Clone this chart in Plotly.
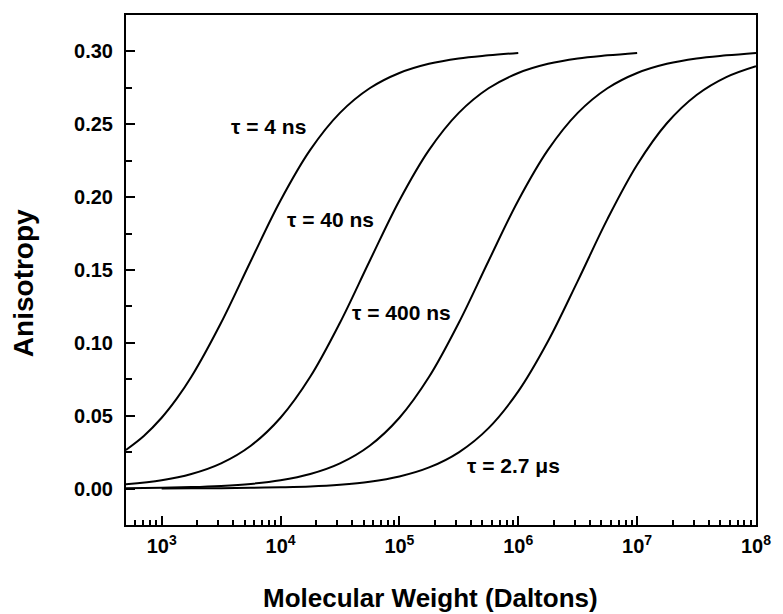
import plotly.graph_objects as go

# Molecular weight (Daltons) sample points
mw_a = [500, 708, 1000, 1334, 1778, 3162, 5623, 10000, 17783, 31623, 56234, 100000,
        177828, 316228, 562341, 1000000]
r_4ns = [0.0265, 0.0361, 0.0486, 0.0615, 0.0767, 0.1138, 0.1562, 0.1977, 0.2324,
         0.2578, 0.2747, 0.2852, 0.2915, 0.2952, 0.2973, 0.2990]

mw_b = [500, 1000, 1778, 3162, 5623, 10000, 17783, 31623, 56234, 100000,
        177828, 316228, 562341, 1000000, 1778279, 3162278, 5623413, 10000000]
r_40ns = [0.0029, 0.0057, 0.0100, 0.0173, 0.0294, 0.0486, 0.0767, 0.1138,
          0.1562, 0.1977, 0.2324, 0.2578, 0.2747, 0.2852, 0.2915, 0.2952,
          0.2973, 0.2990]

mw_c = [500, 1000, 1778, 3162, 5623, 10000, 17783, 31623, 56234, 100000,
        177828, 316228, 562341, 1000000, 1778279, 3162278, 5623413, 10000000,
        17782794, 31622777, 56234133, 100000000]
r_400ns = [0.0003, 0.0006, 0.0010, 0.0018, 0.0032, 0.0057, 0.0100, 0.0173,
           0.0294, 0.0486, 0.0767, 0.1138, 0.1562, 0.1977, 0.2324, 0.2578,
           0.2747, 0.2852, 0.2915, 0.2952, 0.2973, 0.2990]

mw_d = [1000, 1778, 3162, 5623, 10000, 17783, 31623, 56234, 100000,
        177828, 316228, 562341, 1000000, 1778279, 3162278, 5623413, 10000000,
        17782794, 31622777, 56234133, 100000000]
r_2700ns = [0.0001, 0.0002, 0.0003, 0.0005, 0.0009, 0.0015, 0.0027, 0.0047,
            0.0083, 0.0145, 0.0249, 0.0415, 0.0667, 0.1011, 0.1424, 0.1849,
            0.2222, 0.2507, 0.2701, 0.2824, 0.2899]

x_tick_vals = [1e3, 1e4, 1e5, 1e6, 1e7, 1e8]
x_tick_text = ["10<sup>3</sup>", "10<sup>4</sup>", "10<sup>5</sup>",
               "10<sup>6</sup>", "10<sup>7</sup>", "10<sup>8</sup>"]
y_tick_vals = [0.00, 0.05, 0.10, 0.15, 0.20, 0.25, 0.30]
y_tick_text = ["0.00", "0.05", "0.10", "0.15", "0.20", "0.25", "0.30"]

labels = ["τ = 4 ns", "τ = 40 ns", "τ = 400 ns", "τ = 2.7 μs"]
label_x = [3.90, 4.42, 5.017, 5.958]   # log10 positions
label_y = [0.2486, 0.1844, 0.1205, 0.0158]

x_title = "Molecular Weight (Daltons)"
y_title = "Anisotropy"

x_minor = [m * 10 ** e for e in range(2, 8) for m in range(2, 10)
           if 500 <= m * 10 ** e <= 1e8]
y_minor = [0.025, 0.075, 0.125, 0.175, 0.225, 0.275]

FONT = "Arial, 'Liberation Sans', sans-serif"

fig = go.Figure()
for xs, ys in [(mw_a, r_4ns), (mw_b, r_40ns), (mw_c, r_400ns), (mw_d, r_2700ns)]:
    fig.add_trace(go.Scatter(x=xs, y=ys, mode="lines",
                             line=dict(color="black", width=2, shape="spline", smoothing=1.0),
                             showlegend=False, hoverinfo="skip"))

for t, lx, ly in zip(labels, label_x, label_y):
    fig.add_annotation(x=lx, y=ly, xref="x", yref="y", text="<b>" + t + "</b>",
                       showarrow=False, font=dict(family=FONT, size=21, color="black"))

fig.add_annotation(x=0.4834, y=-0.1431, xref="paper", yref="paper",
                   text="<b>" + x_title + "</b>", showarrow=False,
                   xanchor="center", yanchor="middle",
                   font=dict(family=FONT, size=26, color="black"))
fig.add_annotation(x=-0.1625, y=0.4735, xref="paper", yref="paper",
                   text="<b>" + y_title + "</b>", showarrow=False, textangle=-90,
                   xanchor="center", yanchor="middle",
                   font=dict(family=FONT, size=28, color="black"))

fig.update_layout(
    width=783, height=614,
    margin=dict(l=126, r=23, t=15, b=89),
    paper_bgcolor="white", plot_bgcolor="white",
    font=dict(family=FONT, color="black"),
    xaxis=dict(
        type="log", range=[2.7, 8],
        tickmode="array", tickvals=x_tick_vals, ticktext=x_tick_text,
        ticks="inside", ticklen=9, tickwidth=2, tickcolor="black",
        minor=dict(tickmode="array", tickvals=x_minor, ticks="inside",
                   ticklen=5, tickwidth=1.5, tickcolor="black"),
        showline=True, linecolor="black", linewidth=2, mirror=True,
        showgrid=False, zeroline=False,
        tickfont=dict(family=FONT, size=20, color="black", weight="bold"),
        ticklabelstandoff=2,
    ),
    yaxis=dict(
        range=[-0.025, 0.325],
        tickmode="array", tickvals=y_tick_vals, ticktext=y_tick_text,
        ticks="inside", ticklen=9, tickwidth=2, tickcolor="black",
        minor=dict(tickmode="array", tickvals=y_minor, ticks="inside",
                   ticklen=6, tickwidth=2, tickcolor="black"),
        showline=True, linecolor="black", linewidth=2, mirror=True,
        showgrid=False, zeroline=False,
        tickfont=dict(family=FONT, size=20, color="black", weight="bold"),
        ticklabelstandoff=7,
    ),
)

fig.write_html("out.html")
